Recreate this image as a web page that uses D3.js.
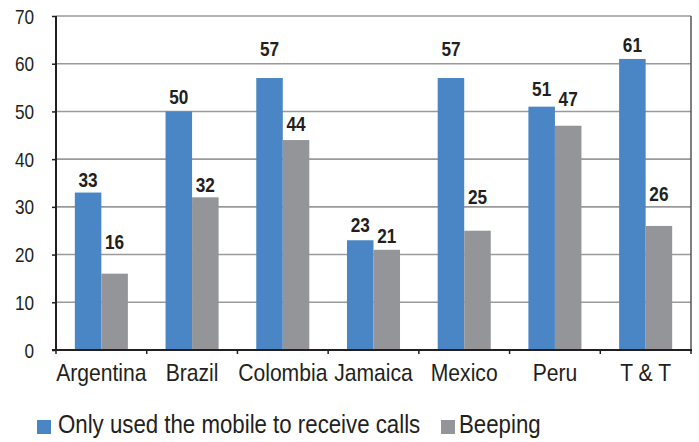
<!DOCTYPE html>
<html><head><meta charset="utf-8">
<script src="https://cdn.jsdelivr.net/npm/d3@7"></script>
<style>
html,body{margin:0;padding:0;background:#fff;}
text{font-family:"Liberation Sans",Arial,sans-serif;fill:#231f20;}
</style></head>
<body>
<svg id="chart" width="699" height="442"></svg>
<script>
const categories = ["Argentina","Brazil","Colombia","Jamaica","Mexico","Peru","T & T"];
const seriesNames = ["Only used the mobile to receive calls","Beeping"];
const onlyReceive = [33,50,57,23,57,51,61];
const beeping = [16,32,44,21,25,47,26];
const yTicks = [0,10,20,30,40,50,60,70];
const colors = ["#4a86c6","#939598"];

// extra lift (px) of value labels, as placed in the original
const liftBlue = [0,1,16,2,16,5,1];
const liftGrey = [19,-1,3,1,21,14,19];

const svg = d3.select("#chart");
const m = {left:56, right:691, top:16, bottom:350};
const x = d3.scaleBand().domain(categories).range([m.left,m.right]).paddingInner(0).paddingOuter(0);
const x1 = d3.scaleBand().domain([0,1]).range([0,x.bandwidth()]).paddingOuter(0.71).paddingInner(0);
const y = d3.scaleLinear().domain([0,70]).range([m.bottom,m.top]);

// gridlines
svg.append("g").selectAll("line").data(yTicks.filter(d=>d>0)).join("line")
  .attr("x1",m.left).attr("x2",m.right).attr("y1",d=>y(d)).attr("y2",d=>y(d))
  .attr("stroke","#9a9a9a").attr("stroke-width",1.6);
// right border
svg.append("line").attr("x1",m.right).attr("x2",m.right).attr("y1",m.top).attr("y2",m.bottom)
  .attr("stroke","#555").attr("stroke-width",1.5);

const data = categories.map((c,i)=>({c, v:[onlyReceive[i],beeping[i]], lift:[liftBlue[i],liftGrey[i]]}));
const g = svg.append("g").selectAll("g").data(data).join("g")
  .attr("transform",d=>`translate(${x(d.c)},0)`);
g.selectAll("rect").data(d=>d.v.map((v,k)=>({v,k}))).join("rect")
  .attr("x",d=>x1(d.k)).attr("width",x1.bandwidth())
  .attr("y",d=>y(d.v)).attr("height",d=>y(0)-y(d.v))
  .attr("fill",d=>colors[d.k]);
g.selectAll("text").data(d=>d.v.map((v,k)=>({v,k,lift:d.lift[k]}))).join("text")
  .attr("transform",d=>`translate(${x1(d.k)+x1.bandwidth()/2},${y(d.v)-6-d.lift}) scale(0.82,1)`)
  .attr("text-anchor","middle").attr("font-weight","bold").attr("font-size",21)
  .text(d=>d.v);

// y axis
const ya = svg.append("g").attr("transform",`translate(${m.left},0)`)
  .call(d3.axisLeft(y).tickValues(yTicks).tickSize(4).tickPadding(18));
ya.select(".domain").remove();
ya.selectAll(".tick line").attr("stroke","#231f20").attr("stroke-width",1.5);
ya.selectAll(".tick text").attr("font-size",20).attr("fill","#231f20").attr("font-family",null)
  .attr("x",0).attr("dy",null).attr("transform","translate(-22,7) scale(0.86,1)");
svg.append("line").attr("x1",m.left).attr("x2",m.left).attr("y1",m.top).attr("y2",m.bottom+1)
  .attr("stroke","#231f20").attr("stroke-width",2);

// x axis
const bounds = categories.map(c=>x(c)).concat([m.right]);
svg.append("g").selectAll("line").data(bounds).join("line")
  .attr("x1",d=>d).attr("x2",d=>d).attr("y1",m.bottom).attr("y2",m.bottom+4)
  .attr("stroke","#231f20").attr("stroke-width",1.5);
svg.append("line").attr("x1",m.left-4).attr("x2",m.right+1).attr("y1",m.bottom).attr("y2",m.bottom)
  .attr("stroke","#231f20").attr("stroke-width",2);
svg.append("g").selectAll("text").data(categories).join("text")
  .attr("transform",d=>`translate(${x(d)+x.bandwidth()/2},381) scale(0.88,1)`).attr("text-anchor","middle")
  .attr("font-size",24).text(d=>d);

// legend
const leg = [{x:37,tx:58},{x:441,tx:459}];
const lg = svg.append("g").selectAll("g").data(seriesNames).join("g");
lg.append("rect").attr("x",(d,i)=>leg[i].x).attr("y",420).attr("width",14).attr("height",14)
  .attr("fill",(d,i)=>colors[i]);
lg.append("text").attr("transform",(d,i)=>`translate(${leg[i].tx},433) scale(0.89,1)`)
  .attr("font-size",25).text(d=>d);
</script>
</body></html>
